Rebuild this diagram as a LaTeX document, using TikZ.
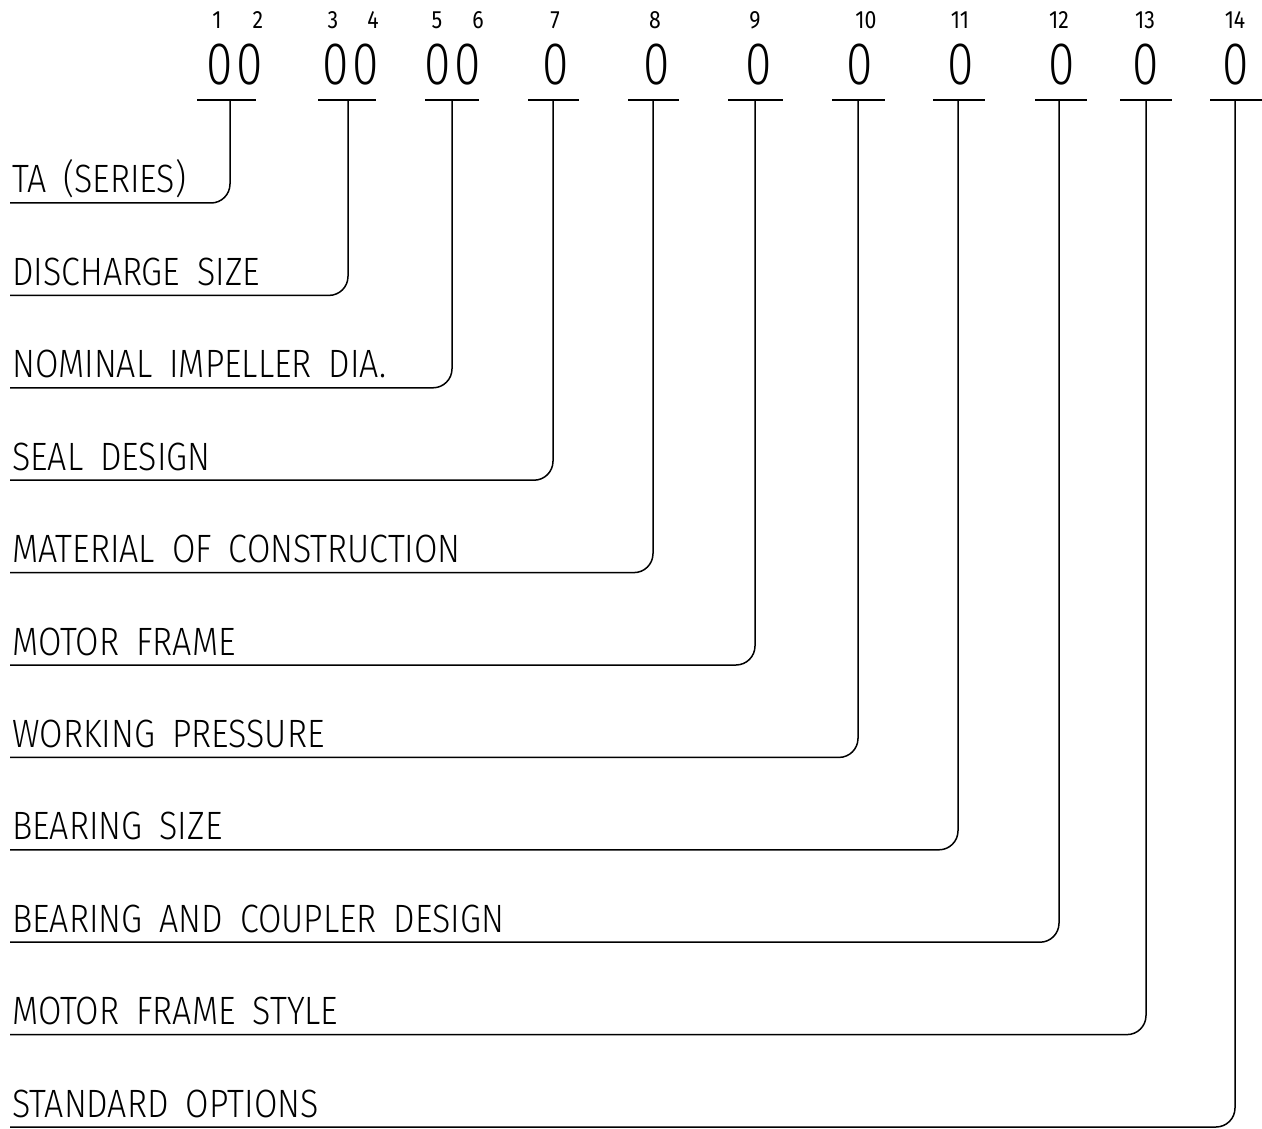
\documentclass[tikz,border=0pt]{standalone}
\usepackage{fontspec}
\newfontfamily\cadfont[FakeStretch=0.86,WordSpace=1.8]{Fira Sans Light}
\newfontfamily\numfont[FakeStretch=0.85]{Fira Sans}
\newfontfamily\zerofont[FakeStretch=0.8]{Fira Sans Light}
\begin{document}
\begin{tikzpicture}[x=1pt,y=-1pt,
  lead/.style={line width=1.5pt, rounded corners=19pt},
  bar/.style={line width=1.5pt},
  lbl/.style={anchor=base west, inner sep=0pt, font=\cadfont\fontsize{39.5}{42}\selectfont},
  zero/.style={inner sep=0pt, font=\zerofont\fontsize{60}{62}\selectfont},
  num/.style={inner sep=0pt, font=\numfont\fontsize{25}{27}\selectfont}]
\useasboundingbox (0,0) rectangle (1262,1129);
% underlines below the code digits
\foreach \i/\a/\b in {1/197/256, 2/318/376, 3/425/479, 4/528/579, 5/628/679, 6/728/783,
                      7/832/885, 8/933/985, 9/1035/1087, 10/1120/1172, 11/1210/1262} {
  \coordinate (ua\i) at (\a,100);
  \coordinate (ub\i) at (\b,100);
  \draw[bar] (ua\i) -- (ub\i);
}
% code zeros
\foreach \i/\x in {1/220, 2/250, 3/336, 4/366, 5/438, 6/468, 7/556, 8/657, 9/759,
                   10/860, 11/961, 12/1062, 13/1146, 14/1236} {
  \node[zero] (z\i) at (\x,65) {0};
}
% position numbers
\foreach \i/\x in {1/217, 2/258, 3/333, 4/373, 5/437, 6/478, 7/555, 8/655, 9/755,
                   10/866, 11/960, 12/1059, 13/1145, 14/1235} {
  \node[num] (d\i) at (\x,20) {\i};
}
% labels and leaders
\foreach \i/\t/\y/\x in {1/{TA (SERIES)}/203/230,
                         2/{DISCHARGE SIZE}/295.4/348,
                         3/{NOMINAL IMPELLER DIA.}/387.8/452,
                         4/{SEAL DESIGN}/480.2/553,
                         5/{MATERIAL OF CONSTRUCTION}/572.6/653,
                         6/{MOTOR FRAME}/665/755,
                         7/{WORKING PRESSURE}/757.4/858,
                         8/{BEARING SIZE}/849.8/958,
                         9/{BEARING AND COUPLER DESIGN}/942.2/1059,
                         10/{MOTOR FRAME STYLE}/1034.6/1146,
                         11/{STANDARD OPTIONS}/1127/1235} {
  \node[lbl] (l\i) at (12,\y-10) {\t};
  \coordinate (s\i) at (10,\y);
  \coordinate (t\i) at (\x,100);
  \draw[lead] (s\i) -| (t\i);
}
\end{tikzpicture}
\end{document}
